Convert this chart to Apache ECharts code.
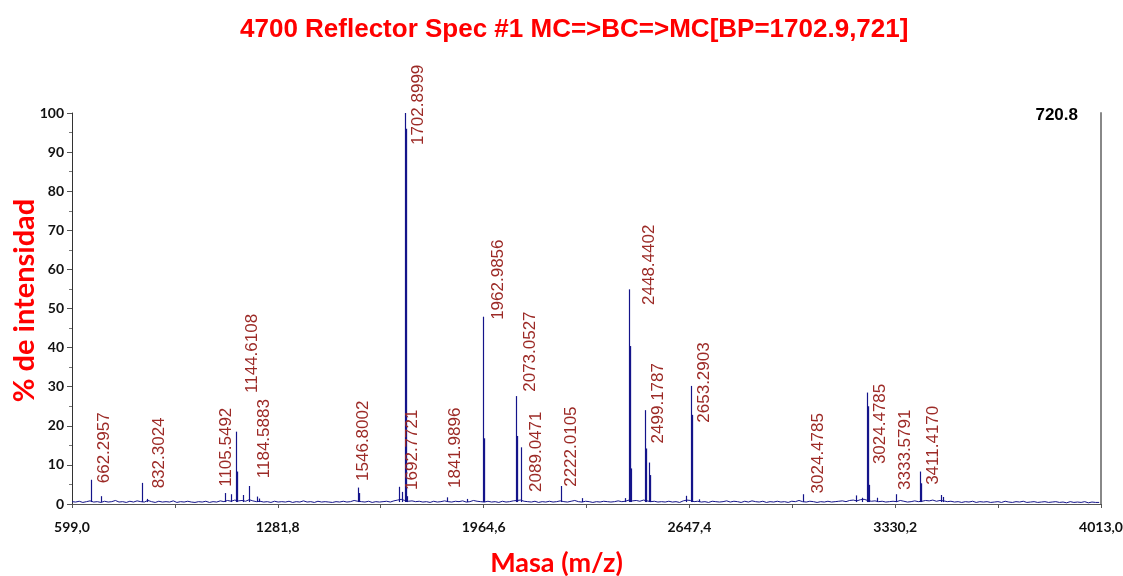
<!DOCTYPE html>
<html>
<head>
<meta charset="utf-8">
<title>4700 Reflector Spec #1</title>
<script src="https://cdn.jsdelivr.net/npm/echarts@6/dist/echarts.min.js"></script>
<style>
  html, body { margin: 0; padding: 0; background: #ffffff; }
  #chart { width: 1123px; height: 576px; }
</style>
</head>
<body>
<div id="chart"></div>
<script>
// ---- spectrum data ----
// baseline noise, sampled every 12 m/z from 599
const noiseStart = 599;
const noiseStep = 12;
const noiseLevel = [
  0.6,0.5,0.7,0.4,0.6,0.8,0.5,0.6,0.4,0.7,0.5,0.6,0.9,0.5,0.6,
  0.4,0.7,0.5,0.8,0.6,0.5,0.9,0.6,0.4,0.7,0.5,0.6,0.5,0.8,0.4,
  0.6,0.5,0.7,0.5,0.4,0.6,0.5,0.7,0.4,0.6,0.5,0.8,0.6,0.9,0.7,
  1.0,0.8,0.9,0.7,1.1,0.8,0.6,0.7,0.5,0.6,0.4,0.7,0.5,0.6,0.5,
  0.7,0.4,0.6,0.5,0.8,0.5,0.6,0.4,0.7,0.5,0.6,0.5,0.4,0.6,0.5,
  0.7,0.5,0.6,0.9,0.7,0.6,0.5,0.7,0.4,0.6,0.5,0.6,0.7,0.5,0.8,
  1.0,1.2,0.9,0.7,0.8,0.6,0.7,0.5,0.6,0.4,0.7,0.5,0.6,0.8,0.6,
  0.5,0.7,0.6,0.8,0.5,0.6,0.9,0.7,0.6,0.5,0.7,0.5,0.6,0.4,0.7,
  0.5,0.6,0.8,0.9,1.0,0.7,0.6,0.5,0.7,0.4,0.6,0.5,0.7,0.5,0.6,
  0.8,0.6,0.5,0.7,0.9,0.6,0.5,0.7,0.6,0.4,0.6,0.5,0.7,0.6,0.5,
  0.6,0.8,0.6,0.7,1.0,0.8,0.9,0.7,1.0,0.8,0.6,0.7,0.5,0.6,0.5,
  0.7,0.5,0.6,0.4,0.8,1.0,0.9,0.6,0.7,0.5,0.6,0.4,0.7,0.6,0.5,
  0.6,0.8,0.5,0.7,0.6,0.4,0.7,0.5,0.8,0.6,0.5,0.7,0.4,0.6,0.5,
  0.7,0.5,0.6,0.4,0.7,0.6,0.9,0.6,0.5,0.7,0.6,0.4,0.6,0.5,0.7,
  0.5,0.6,0.7,0.8,0.6,0.9,1.0,0.8,1.1,1.2,0.9,0.7,0.8,0.6,0.7,
  0.5,0.6,0.7,0.6,0.9,0.7,0.5,0.6,0.8,0.6,0.7,0.9,0.8,1.0,0.7,
  0.9,0.8,0.6,0.7,0.5,0.6,0.4,0.6,0.5,0.7,0.4,0.6,0.5,0.6,0.4,
  0.5,0.6,0.4,0.7,0.5,0.4,0.6,0.5,0.7,0.4,0.5,0.6,0.4,0.5,0.6,
  0.4,0.5,0.6,0.4,0.5,0.3,0.6,0.4,0.5,0.4,0.6,0.3,0.5,0.4,0.4
];

// peaks: position (m/z), apex (% intensity), and the isotope lines beside the apex
const peakMz = [
  662.3, 694.6, 832.3, 848.0, 1105.5, 1126.0, 1144.6, 1167.8, 1184.6, 1212.0,
  1220.0, 1546.8, 1685.4, 1692.8, 1702.9, 1710.0, 1842.0, 1909.0, 1963.0, 2073.1,
  2089.0, 2222.0, 2292.6, 2434.0, 2448.4, 2499.2, 2514.0, 2635.8, 2653.3, 2680.0,
  3024.5, 3199.0, 3220.0, 3238.0, 3269.0, 3333.6, 3411.4, 3483.0, 3490.0
];
const peakTop = [
  6.2, 2.0, 5.4, 1.3, 2.8, 2.5, 18.5, 2.3, 4.6, 1.9,
  1.4, 4.2, 4.4, 3.1, 100, 2.0, 1.7, 1.3, 47.9, 27.6,
  14.5, 4.6, 1.5, 1.5, 54.9, 24.0, 10.6, 2.1, 30.2, 1.2,
  2.5, 2.2, 1.6, 28.5, 1.6, 2.5, 8.3, 2.3, 1.8
];
const peakIso1 = [
  0, 0, 0, 0, 0, 0, 8.3, 0, 0, 0,
  0, 2.8, 0, 0, 96, 0, 0, 0, 16.8, 17.4,
  0, 0, 0, 0, 40.4, 14.2, 7.4, 0, 22.8, 0,
  0, 0, 0, 25.0, 0, 0, 5.3, 0, 0
];
const peakIso2 = [
  0, 0, 0, 0, 0, 0, 0, 0, 0, 0,
  0, 0, 0, 0, 0, 0, 0, 0, 0, 0,
  0, 0, 0, 0, 9.1, 0, 0, 0, 0, 0,
  0, 0, 0, 4.9, 0, 0, 0, 0, 0
];

// peak annotations: text and the peak (m/z) each one belongs to
const labelText = [
  '662.2957', '832.3024', '1105.5492', '1144.6108', '1184.5883',
  '1546.8002', '1692.7721', '1702.8999', '1841.9896', '1962.9856',
  '2073.0527', '2089.0471', '2222.0105', '2448.4402', '2499.1787',
  '2653.2903', '3024.4785', '3024.4785', '3333.5791', '3411.4170'
];
const labelPeak = [
  662.2957, 832.3024, 1105.5492, 1144.6108, 1184.5883,
  1546.8002, 1692.7721, 1702.8999, 1841.9896, 1962.9856,
  2073.0527, 2089.0471, 2222.0105, 2448.4402, 2499.1787,
  2653.2903, 3024.4785, 3238.0, 3333.5791, 3411.4170
];
// annotation layout: [sideways shift in px, level (%) where the text starts]
const labelLayout = [
  [13, 5.3], [17, 4.0], [2, 4.4], [16, 28.4], [16, 6.6],
  [6, 5.9], [11, 3.6], [14, 91.8], [9, 4.1], [15, 47.1],
  [14, 28.7], [15, 3.1], [10, 4.4], [20, 50.9], [14, 15.5],
  [13, 20.8], [15, 2.7], [13, 10.2], [9, 3.6], [14, 4.9]
];

// axis ticks
const xLabelValues = [599.0, 1281.8, 1964.6, 2647.4, 3330.2, 4013.0];
const xTickValues = [599.0, 940.4, 1281.8, 1623.2, 1964.6, 2306.0, 2647.4, 2988.8, 3330.2, 3671.6, 4013.0];

const titleText = '4700 Reflector Spec #1 MC=>BC=>MC[BP=1702.9,721]';
const peakCounts = '720.8';

// ---- drawing ----
const NAVY = '#14148a';
const chart = echarts.init(document.getElementById('chart'), null, { renderer: 'canvas' });

const noiseData = noiseLevel.map((v, i) => [noiseStart + i * noiseStep, v]);
const peakData = peakMz.map((m, i) => [m, peakTop[i], peakIso1[i], peakIso2[i]]);
const labelData = labelPeak.map((m, i) => [m, labelLayout[i][1], i]);

function crisp(x) { return Math.round(x) + 0.5; }

const option = {
  animation: false,
  backgroundColor: '#ffffff',
  title: [
    {
      text: titleText,
      left: 235, top: 12,
      textStyle: { color: '#ff0000', fontFamily: 'Liberation Sans', fontWeight: 'bold', fontSize: 26 }
    },
    {
      text: peakCounts,
      right: 40, top: 102,
      textStyle: { color: '#000000', fontFamily: 'Liberation Sans', fontWeight: 'bold', fontSize: 17 }
    }
  ],
  grid: { left: 72, right: 22, top: 113, bottom: 72, containLabel: false, outerBoundsMode: 'none' },
  xAxis: {
    type: 'value',
    min: 599, max: 4013,
    offset: 2,
    name: 'Masa (m/z)',
    nameLocation: 'middle',
    nameGap: 44,
    nameMoveOverlap: false,
    nameTextStyle: {
      color: '#ff0000', fontFamily: 'Lato', fontWeight: 'bold', fontSize: 27,
      padding: [0, 60, 0, 0]
    },
    axisLine: { show: true, lineStyle: { color: '#555555', width: 1 } },
    axisTick: { show: true, inside: false, length: 4, customValues: xTickValues, lineStyle: { color: '#555555' } },
    axisLabel: {
      show: true, margin: 14, customValues: xLabelValues,
      color: '#111111', fontFamily: 'Lato', fontWeight: 'bold', fontSize: 14,
      formatter: v => Number(v).toFixed(1).replace('.', ',')
    },
    splitLine: { show: false }
  },
  yAxis: [
    {
      type: 'value',
      min: 0, max: 100, interval: 10,
      name: '% de intensidad',
      nameLocation: 'middle',
      nameGap: 33,
      nameRotate: 90,
      nameMoveOverlap: false,
      nameTextStyle: {
        color: '#ff0000', fontFamily: 'Lato', fontWeight: 'bold', fontSize: 29,
        padding: [0, 0, 0, 16]
      },
      axisLine: { show: true, lineStyle: { color: '#333333', width: 1 } },
      axisTick: { show: true, length: 5, lineStyle: { color: '#555555' } },
      minorTick: { show: true, splitNumber: 2, length: 3, lineStyle: { color: '#777777' } },
      axisLabel: {
        margin: 8, color: '#111111', fontFamily: 'Lato', fontWeight: 'bold', fontSize: 14
      },
      splitLine: { show: false }
    },
    {
      type: 'value',
      position: 'right',
      min: 0, max: 100,
      axisLine: { show: true, lineStyle: { color: '#888888', width: 2 } },
      axisTick: { show: false },
      axisLabel: { show: false },
      splitLine: { show: false }
    }
  ],
  series: [
    {
      name: 'baseline',
      type: 'line',
      data: noiseData,
      showSymbol: false,
      symbol: 'none',
      lineStyle: { color: NAVY, width: 1 },
      z: 2
    },
    {
      name: 'peaks',
      type: 'custom',
      data: peakData,
      encode: { x: 0, y: 1 },
      clip: false,
      z: 3,
      renderItem: function (params, api) {
        const mz = api.value(0);
        const base = api.coord([mz, 0.5]);
        const x = crisp(base[0]);
        const lines = [[0, api.value(1), 1.2], [1, api.value(2), 1.3], [2, api.value(3), 1.2]];
        const children = [];
        lines.forEach(function (l) {
          if (!(l[1] > 0)) return;
          const top = api.coord([mz, l[1]]);
          children.push({
            type: 'line',
            shape: { x1: x + l[0], y1: base[1], x2: x + l[0], y2: top[1] },
            style: { stroke: NAVY, lineWidth: l[2] }
          });
        });
        return { type: 'group', children: children };
      }
    },
    {
      name: 'annotations',
      type: 'custom',
      data: labelData,
      encode: { x: 0, y: 1 },
      clip: false,
      z: 4,
      renderItem: function (params, api) {
        const i = api.value(2);
        const p = api.coord([api.value(0), api.value(1)]);
        return {
          type: 'text',
          x: p[0] + labelLayout[i][0],
          y: p[1],
          rotation: Math.PI / 2,
          style: {
            text: labelText[i],
            fill: '#9c2a26',
            font: '17px "Liberation Sans", Arial, sans-serif',
            align: 'left',
            verticalAlign: 'middle'
          }
        };
      }
    }
  ]
};

chart.setOption(option);
</script>
</body>
</html>
